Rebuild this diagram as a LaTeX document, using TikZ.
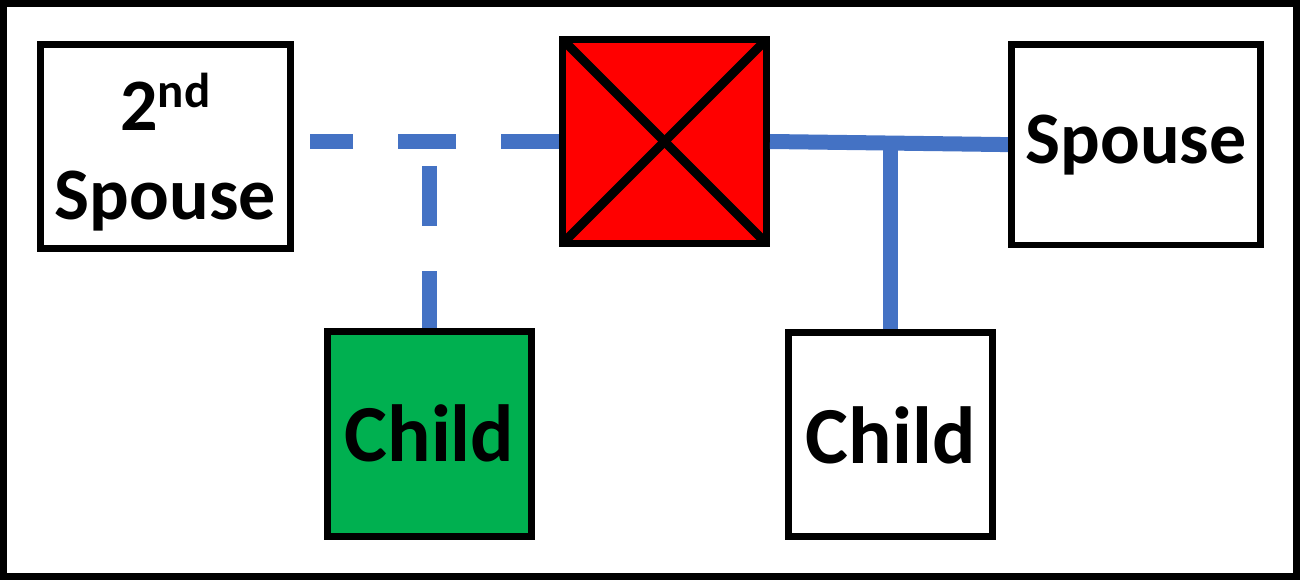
\documentclass[tikz,border=0pt]{standalone}
\usepackage{fontspec}
\setmainfont{Carlito}
\definecolor{lineblue}{HTML}{4472C4}
\definecolor{boxred}{HTML}{FF0000}
\definecolor{boxgreen}{HTML}{00B050}
\newcommand\spousefont{\fontsize{74}{88.6}\selectfont\bfseries}
\newcommand\childfont{\fontsize{81}{97}\selectfont\bfseries}
\newcommand\supnd[1]{\raisebox{22.7pt}{\fontsize{49}{50}\selectfont #1}}
\begin{document}
\begin{tikzpicture}[x=1pt,y=-1pt,
  box/.style={rectangle, draw=black, line width=6.8pt, fill=white, inner sep=0pt,
    minimum width=250pt, minimum height=204pt, text=black},
  childbox/.style={box, line width=7pt, minimum width=204pt, minimum height=204.5pt, font=\childfont},
  cross/.style={line width=9pt, shorten <=6pt, shorten >=6pt},
  dashblue/.style={draw=lineblue, line width=15pt, dash pattern=on 58pt off 45pt},
  solidblue/.style={draw=lineblue, line width=15pt}]
\useasboundingbox (0,0) rectangle (1300,580);
\draw[line width=7pt] (3.5,3.5) rectangle (1296.5,576.5);
% boxes
\node[box, font=\spousefont, align=center, text height=146.1pt, text depth=0pt]
  (sp2) at (165.25,146.25) {2\supnd{nd}\\Spouse};
\node[box, fill=boxred, line width=7pt, minimum width=204pt, minimum height=204pt]
  (red) at (664.5,141.5) {};
\draw[cross] (red.north west) -- (red.south east);
\draw[cross] (red.north east) -- (red.south west);
\node[box, font=\spousefont, minimum width=249.5pt, minimum height=200.8pt,
  text height=37.4pt, text depth=0pt] (sp1) at (1136,144.6) {Spouse};
\node[childbox, fill=boxgreen, text height=55pt, text depth=0pt] (gchild) at (429.5,434.2) {Child};
\node[childbox, text height=57pt, text depth=0pt] (wchild) at (890.6,434.5) {Child};
% connectors
\coordinate (hd) at (310,141.5);
\coordinate (vd) at (429.5,166);
\draw[dashblue] (red.west) -- (hd);
\draw[dashblue, dash pattern=on 60pt off 45pt] (vd) -- (vd |- gchild.north);
\draw[solidblue] (red.east) -- (sp1.west);
\draw[solidblue] (wchild.north) -- (wchild.north |- red.east);
\end{tikzpicture}
\end{document}
